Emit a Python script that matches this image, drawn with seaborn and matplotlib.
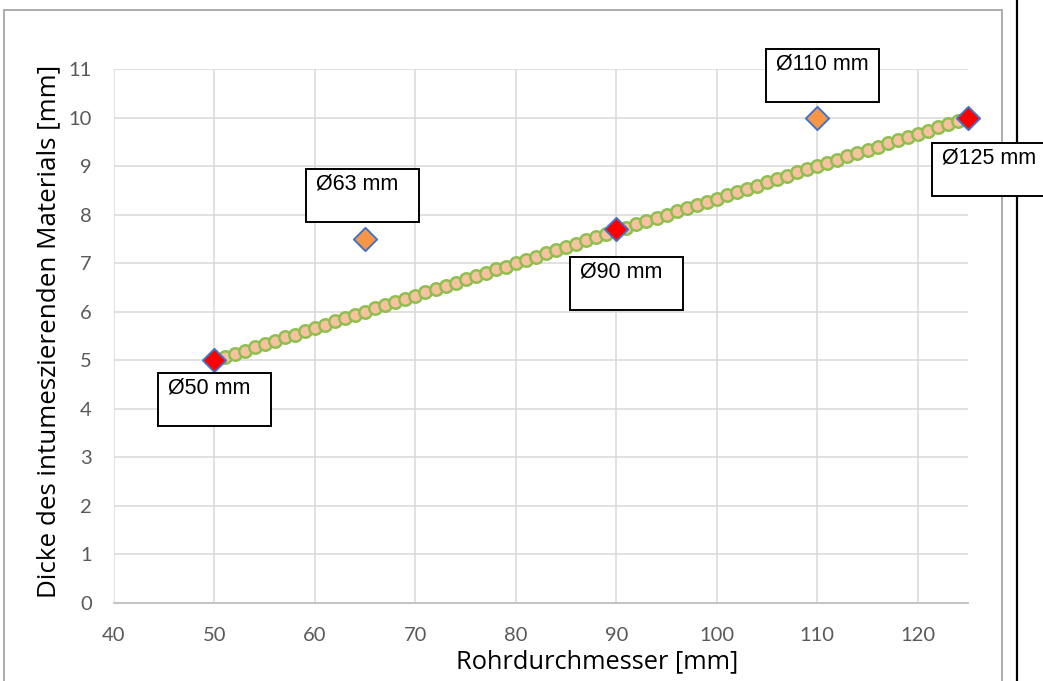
import matplotlib
matplotlib.use("Agg")
import matplotlib.pyplot as plt
import seaborn as sns
import pandas as pd
from matplotlib.patches import Rectangle
from matplotlib.lines import Line2D

# ---- data ----
line_x = [50, 51, 52, 53, 54, 55, 56, 57, 58, 59, 60, 61, 62, 63, 64, 65, 66, 67, 68, 69,
          70, 71, 72, 73, 74, 75, 76, 77, 78, 79, 80, 81, 82, 83, 84, 85, 86, 87, 88, 89,
          90, 91, 92, 93, 94, 95, 96, 97, 98, 99, 100, 101, 102, 103, 104, 105, 106, 107, 108, 109,
          110, 111, 112, 113, 114, 115, 116, 117, 118, 119, 120, 121, 122, 123, 124, 125]
line_y = [5.00, 5.07, 5.13, 5.20, 5.27, 5.33, 5.40, 5.47, 5.53, 5.60, 5.67, 5.73, 5.80, 5.87, 5.93,
          6.00, 6.07, 6.13, 6.20, 6.27, 6.33, 6.40, 6.47, 6.53, 6.60, 6.67, 6.73, 6.80, 6.87, 6.93,
          7.00, 7.07, 7.13, 7.20, 7.27, 7.33, 7.40, 7.47, 7.53, 7.60, 7.67, 7.73, 7.80, 7.87, 7.93,
          8.00, 8.07, 8.13, 8.20, 8.27, 8.33, 8.40, 8.47, 8.53, 8.60, 8.67, 8.73, 8.80, 8.87, 8.93,
          9.00, 9.07, 9.13, 9.20, 9.27, 9.33, 9.40, 9.47, 9.53, 9.60, 9.67, 9.73, 9.80, 9.87, 9.93, 10.00]

red_x = [50, 90, 125]
red_y = [5.0, 7.7, 10.0]
orange_x = [65, 110]
orange_y = [7.5, 10.0]

label_texts = ["Ø50 mm", "Ø63 mm", "Ø90 mm", "Ø110 mm", "Ø125 mm"]
# label box positions (left, top) in data units, placed near their points
label_left = [44.38, 59.12, 85.42, 104.94, 121.37]
label_top = [4.74, 8.94, 7.13, 11.41, 9.47]
box_w = 11.25
box_h = 1.09

x_ticks = [40, 50, 60, 70, 80, 90, 100, 110, 120]
y_ticks = [0, 1, 2, 3, 4, 5, 6, 7, 8, 9, 10, 11]
x_label = "Rohrdurchmesser [mm]"
y_label = "Dicke des intumeszierenden Materials [mm]"

# ---- style ----
sns.set_theme(style="white")
plt.rcParams['font.family'] = ['Lato', 'DejaVu Sans']

fig = plt.figure(figsize=(10.43, 6.81), dpi=100)
fig.patch.set_facecolor("white")
ax = fig.add_axes([114/1043, 1 - 603/681, (968-114)/1043, (603-69)/681])
ax.set_zorder(3)
ax.patch.set_alpha(0)

df_line = pd.DataFrame({"x": line_x, "y": line_y})
df_red = pd.DataFrame({"x": red_x, "y": red_y})
df_or = pd.DataFrame({"x": orange_x, "y": orange_y})

sns.scatterplot(data=df_line, x="x", y="y", ax=ax, marker="o", s=80,
                color="#F7C29F", edgecolor="#8FBF4F", linewidth=1.8, zorder=4, clip_on=False)
sns.scatterplot(data=df_or, x="x", y="y", ax=ax, marker="D", s=140,
                color="#F79646", edgecolor="#4472C4", linewidth=1.4, zorder=5, clip_on=False)
sns.scatterplot(data=df_red, x="x", y="y", ax=ax, marker="D", s=140,
                color="#FF0000", edgecolor="#4472C4", linewidth=1.4, zorder=5, clip_on=False)

ax.set_xlim(40, 125)
ax.set_ylim(0, 11)
ax.set_xticks(x_ticks)
ax.set_yticks(y_ticks)
ax.grid(True, color="#D9D9D9", linewidth=1.1)
ax.set_axisbelow(True)
for s in ["top", "right", "left"]:
    ax.spines[s].set_visible(False)
ax.spines["bottom"].set_color("#BFBFBF")
ax.spines["bottom"].set_linewidth(1.3)
ax.tick_params(axis="both", length=0, labelsize=14.5, labelcolor="#595959")
ax.tick_params(axis="x", pad=17)
ax.tick_params(axis="y", pad=16)
ax.set_xlabel(x_label, fontsize=18.3, color="black",
              family=["Open Sans", "DejaVu Sans"])
ax.xaxis.set_label_coords((597 - 114) / 854, -(668 - 603) / 534)
ax.xaxis.label.set_va("baseline")
ax.set_ylabel(y_label, fontsize=18.7, color="black",
              family=["Open Sans", "DejaVu Sans"])
ax.yaxis.set_label_coords((61 - 114) / 854, (603 - 331) / 534)

# label boxes
for t, l, tp in zip(label_texts, label_left, label_top):
    ax.add_patch(Rectangle((l, tp - box_h), box_w, box_h, facecolor="white",
                           edgecolor="black", linewidth=1.4, clip_on=False, zorder=6))
    ax.annotate(t, xy=(l, tp), xycoords="data", xytext=(7.2, -10.8),
                textcoords="offset points", ha="left", va="center",
                fontsize=15.5, family=["Liberation Sans", "DejaVu Sans"],
                color="black", zorder=7, annotation_clip=False)

# outer chart border and page line
W, H = 1043, 681
gray = "#A6A6A6"
fig.add_artist(Line2D([4/W, 4/W], [0, 1 - 10/H], color=gray, linewidth=1.3))
fig.add_artist(Line2D([4/W, 1002/W], [1 - 10/H, 1 - 10/H], color=gray, linewidth=1.3))
fig.add_artist(Line2D([1002/W, 1002/W], [0, 1 - 10/H], color=gray, linewidth=1.3))
fig.add_artist(Line2D([1017/W, 1017/W], [0, 1], color="black", linewidth=1.6))

fig.savefig("out.png", dpi=100, facecolor="white")
